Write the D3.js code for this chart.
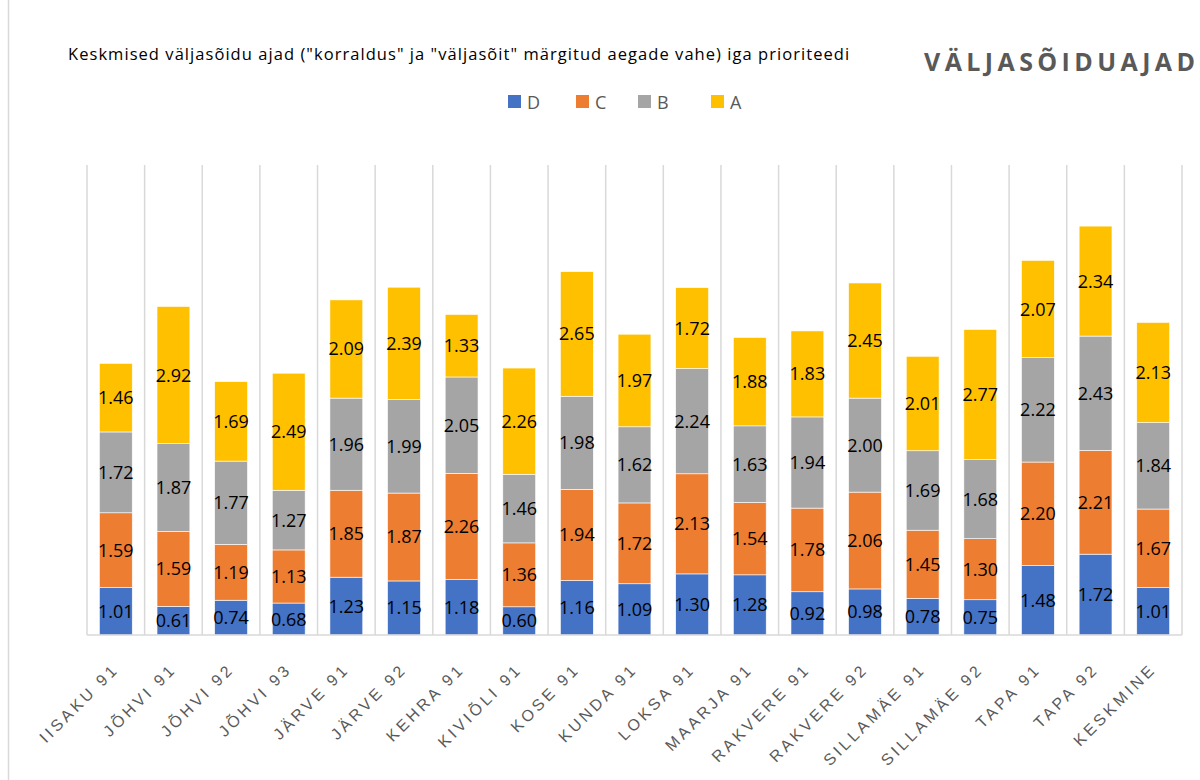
<!DOCTYPE html>
<html>
<head>
<meta charset="utf-8">
<script src="https://cdn.jsdelivr.net/npm/d3@7"></script>
<style>
  body { margin: 0; background: #fff; }
  svg { display: block; font-family: "Open Sans", "Noto Sans", sans-serif; }
</style>
</head>
<body>
<svg id="chart" width="1200" height="780"></svg>
<script>
//////////////////////////////////////
// Data

const categories = ["IISAKU 91", "JÕHVI 91", "JÕHVI 92", "JÕHVI 93", "JÄRVE 91", "JÄRVE 92", "KEHRA 91",
  "KIVIÕLI 91", "KOSE 91", "KUNDA 91", "LOKSA 91", "MAARJA 91", "RAKVERE 91", "RAKVERE 92",
  "SILLAMÄE 91", "SILLAMÄE 92", "TAPA 91", "TAPA 92", "KESKMINE"];

const seriesNames = ["D", "C", "B", "A"];

const valuesD = [1.01, 0.61, 0.74, 0.68, 1.23, 1.15, 1.18, 0.60, 1.16, 1.09, 1.30, 1.28, 0.92, 0.98, 0.78, 0.75, 1.48, 1.72, 1.01];
const valuesC = [1.59, 1.59, 1.19, 1.13, 1.85, 1.87, 2.26, 1.36, 1.94, 1.72, 2.13, 1.54, 1.78, 2.06, 1.45, 1.30, 2.20, 2.21, 1.67];
const valuesB = [1.72, 1.87, 1.77, 1.27, 1.96, 1.99, 2.05, 1.46, 1.98, 1.62, 2.24, 1.63, 1.94, 2.00, 1.69, 1.68, 2.22, 2.43, 1.84];
const valuesA = [1.46, 2.92, 1.69, 2.49, 2.09, 2.39, 1.33, 2.26, 2.65, 1.97, 1.72, 1.88, 1.83, 2.45, 2.01, 2.77, 2.07, 2.34, 2.13];

const titleText = 'Keskmised väljasõidu ajad ("korraldus" ja "väljasõit" märgitud aegade vahe) iga prioriteedi';
const headText = "VÄLJASÕIDUAJAD";

//////////////////////////////////////
// Layout

const colors = { D: "#4472C4", C: "#ED7D31", B: "#A5A5A5", A: "#FFC000" };
const plot = { left: 87, right: 1182, top: 165, bottom: 635 };

const table = categories.map(function(c, i) {
  return { cat: c, D: valuesD[i], C: valuesC[i], B: valuesB[i], A: valuesA[i] };
});

const svg = d3.select("#chart");

// chart frame edge on the left
svg.append("line")
  .attr("x1", 8.5).attr("x2", 8.5).attr("y1", 0).attr("y2", 780)
  .attr("stroke", "#d9d9d9").attr("stroke-width", 1.5);

const x = d3.scaleBand().domain(categories).range([plot.left, plot.right]).paddingInner(0.43).paddingOuter(0.215);
const y = d3.scaleLinear().domain([0, 10]).range([plot.bottom, plot.top]);

// vertical gridlines at category boundaries
const step = x.step();
const bounds = d3.range(categories.length + 1).map(function(i) { return plot.left + i * step; });
svg.append("g").selectAll("line").data(bounds).enter().append("line")
  .attr("x1", function(d) { return d; }).attr("x2", function(d) { return d; })
  .attr("y1", plot.top).attr("y2", plot.bottom)
  .attr("stroke", "#d9d9d9").attr("stroke-width", 1.5);

// stacked bars
const stack = d3.stack().keys(seriesNames)(table);

const layers = svg.append("g").selectAll("g").data(stack).enter().append("g")
  .attr("fill", function(d) { return colors[d.key]; });

layers.selectAll("rect").data(function(d) { return d; }).enter().append("rect")
  .attr("x", function(d) { return x(d.data.cat); })
  .attr("width", x.bandwidth())
  .attr("y", function(d) { return y(d[1]); })
  .attr("height", function(d) { return y(d[0]) - y(d[1]); })
  .attr("stroke", "#fff").attr("stroke-width", 0.6);

// data labels
layers.selectAll("text").data(function(d) { return d; }).enter().append("text")
  .attr("x", function(d) { return x(d.data.cat) + x.bandwidth() / 2; })
  .attr("y", function(d) { return (y(d[0]) + y(d[1])) / 2; })
  .attr("dy", "0.36em")
  .attr("text-anchor", "middle")
  .attr("fill", "#000")
  .style("font-size", "18px")
  .text(function(d) { return d3.format(".2f")(d[1] - d[0]); });

// x axis
const xAxis = svg.append("g")
  .attr("transform", "translate(0," + plot.bottom + ")")
  .call(d3.axisBottom(x).tickSize(0).tickPadding(0));
xAxis.select(".domain").attr("stroke", "#d9d9d9").attr("stroke-width", 1.5)
  .attr("d", "M" + plot.left + ",0H" + plot.right);
xAxis.selectAll("text")
  .attr("fill", "#595959")
  .style("font-size", "16px")
  .style("letter-spacing", "3.3px")
  .attr("text-anchor", "end")
  .attr("dy", null).attr("y", 0)
  .attr("transform", "translate(4,35) rotate(-45)");

// title & heading
svg.append("text")
  .attr("x", 68).attr("y", 60)
  .attr("fill", "#000")
  .style("font-size", "16.5px")
  .style("letter-spacing", "1.05px")
  .text(titleText);

svg.append("text")
  .attr("x", 924).attr("y", 71)
  .attr("fill", "#595959")
  .style("font-size", "25px")
  .style("font-weight", "bold")
  .style("letter-spacing", "4.4px")
  .text(headText);

// legend
const legendX = [508, 576, 638, 711];
const legend = svg.append("g").selectAll("g").data(seriesNames).enter().append("g")
  .attr("transform", function(d, i) { return "translate(" + legendX[i] + ",95)"; });
legend.append("rect").attr("width", 13).attr("height", 13)
  .attr("fill", function(d) { return colors[d]; });
legend.append("text").attr("x", 19).attr("y", 13.5)
  .attr("fill", "#595959").style("font-size", "18px")
  .text(function(d) { return d; });
</script>
</body>
</html>
